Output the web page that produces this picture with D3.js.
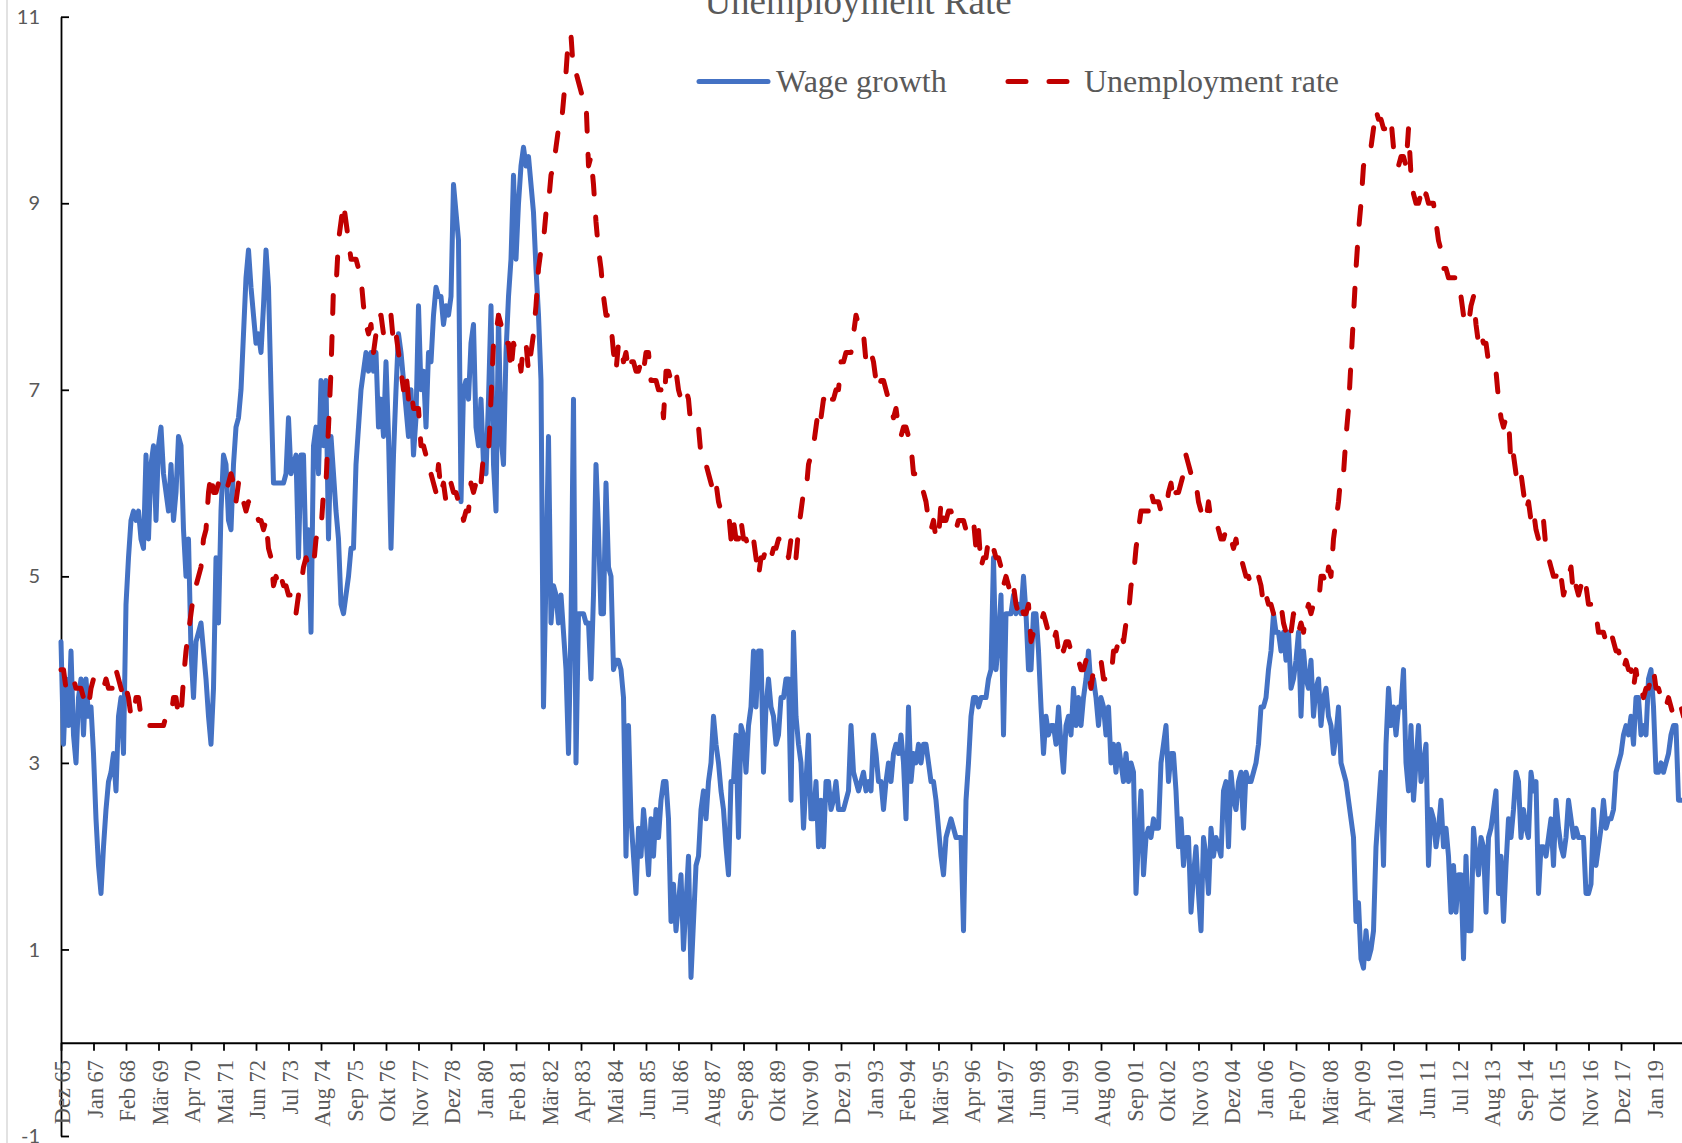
<!DOCTYPE html>
<html>
<head>
<meta charset="utf-8">
<title>Wage growth and unemployment rate</title>
<script src="https://cdn.jsdelivr.net/npm/d3@7"></script>
<style>
  body { margin: 0; background: #ffffff; }
  svg { display: block; }
</style>
</head>
<body>
<div id="chart"></div>
<script>
const monthNames = ["Jan", "Feb", "Mär", "Apr", "Mai", "Jun", "Jul", "Aug", "Sep", "Okt", "Nov", "Dez"];

const tickLabels = [
    "Dez 65", "Jan 67", "Feb 68", "Mär 69", "Apr 70", "Mai 71", "Jun 72", "Jul 73", "Aug 74", "Sep 75",
    "Okt 76", "Nov 77", "Dez 78", "Jan 80", "Feb 81", "Mär 82", "Apr 83", "Mai 84", "Jun 85", "Jul 86",
    "Aug 87", "Sep 88", "Okt 89", "Nov 90", "Dez 91", "Jan 93", "Feb 94", "Mär 95", "Apr 96", "Mai 97",
    "Jun 98", "Jul 99", "Aug 00", "Sep 01", "Okt 02", "Nov 03", "Dez 04", "Jan 06", "Feb 07", "Mär 08",
    "Apr 09", "Mai 10", "Jun 11", "Jul 12", "Aug 13", "Sep 14", "Okt 15", "Nov 16", "Dez 17", "Jan 19"
];

const yTicks = [-1, 1, 3, 5, 7, 9, 11];

const seriesNames = ["Wage growth", "Unemployment rate"];

// monthly, first value is Dez 65, then one row per year
const wageGrowth = [
    4.3,
    3.2, 3.9, 3.4, 4.2, 3.3, 3.0, 3.7, 3.9, 3.3, 3.9, 3.5, 3.6, // 1966
    3.1, 2.4, 1.9, 1.6, 2.1, 2.5, 2.8, 2.9, 3.1, 2.7, 3.5, 3.7, // 1967
    3.1, 4.7, 5.2, 5.6, 5.7, 5.6, 5.7, 5.4, 5.3, 6.3, 5.4, 6.2, // 1968
    6.4, 5.6, 6.4, 6.6, 6.1, 5.9, 5.7, 6.2, 5.6, 5.9, 6.5, 6.4, // 1969
    5.5, 5.0, 5.4, 4.2, 3.7, 4.3, 4.4, 4.5, 4.2, 3.9, 3.5, 3.2, // 1970
    3.8, 5.2, 4.5, 5.7, 6.3, 6.2, 5.6, 5.5, 6.2, 6.6, 6.7, 7.0, // 1971
    7.6, 8.2, 8.5, 8.1, 7.8, 7.5, 7.6, 7.4, 7.9, 8.5, 8.1, 7.0, // 1972
    6.0, 6.0, 6.0, 6.0, 6.0, 6.1, 6.7, 6.1, 6.2, 6.3, 5.2, 6.3, // 1973
    6.3, 5.2, 5.5, 4.4, 6.4, 6.6, 6.1, 7.1, 6.4, 7.1, 5.4, 6.5, // 1974
    6.1, 5.7, 5.4, 4.7, 4.6, 4.8, 5.0, 5.3, 5.3, 6.2, 6.6, 7.0, // 1975
    7.2, 7.4, 7.2, 7.4, 7.2, 7.4, 6.6, 6.9, 6.5, 7.3, 6.5, 5.3, // 1976
    6.3, 7.0, 7.6, 7.4, 7.1, 6.8, 6.5, 7.0, 6.3, 6.7, 7.9, 7.0, // 1977
    7.2, 6.6, 7.4, 7.3, 7.8, 8.1, 8.0, 8.0, 7.7, 7.9, 7.8, 8.0, // 1978
    9.2, 8.9, 8.6, 5.8, 7.0, 7.1, 6.9, 7.5, 7.7, 6.6, 6.4, 6.9, // 1979
    6.2, 6.1, 6.9, 7.9, 6.2, 5.7, 7.8, 6.5, 6.2, 7.4, 8.0, 8.4, // 1980
    9.3, 8.4, 9.0, 9.4, 9.6, 9.4, 9.5, 9.2, 8.9, 8.3, 7.8, 7.1, // 1981
    3.6, 5.0, 6.5, 4.5, 4.9, 4.8, 4.5, 4.8, 4.4, 4.0, 3.1, 4.5, // 1982
    6.9, 3.0, 4.6, 4.6, 4.6, 4.5, 4.5, 3.9, 4.8, 6.2, 5.5, 4.6, // 1983
    4.6, 6.0, 5.1, 5.0, 4.0, 4.1, 4.1, 4.0, 3.7, 2.0, 3.4, 2.4, // 1984
    2.0, 1.6, 2.3, 2.0, 2.5, 2.2, 1.8, 2.4, 2.0, 2.5, 2.2, 2.6, // 1985
    2.8, 2.8, 2.4, 1.3, 1.7, 1.2, 1.5, 1.8, 1.0, 1.5, 2.0, 0.7, // 1986
    1.3, 1.9, 2.0, 2.5, 2.7, 2.4, 2.8, 3.0, 3.5, 3.2, 3.0, 2.7, // 1987
    2.5, 2.1, 1.8, 2.8, 2.8, 3.3, 2.2, 3.4, 3.3, 2.9, 3.4, 3.6, // 1988
    4.2, 3.6, 4.2, 4.2, 2.9, 3.6, 3.9, 3.6, 3.5, 3.2, 3.3, 3.7, // 1989
    3.7, 3.9, 3.9, 2.6, 4.4, 3.5, 3.2, 3.0, 2.3, 2.8, 3.3, 2.4, // 1990
    2.4, 2.8, 2.1, 2.6, 2.1, 2.8, 2.8, 2.5, 2.6, 2.8, 2.5, 2.5, // 1991
    2.5, 2.6, 2.7, 3.4, 2.9, 2.8, 2.7, 2.8, 2.9, 2.7, 2.8, 2.7, // 1992
    3.3, 3.1, 2.8, 2.8, 2.5, 2.8, 3.0, 2.8, 3.1, 3.2, 3.1, 3.3, // 1993
    3.0, 2.4, 3.6, 2.8, 3.1, 3.0, 3.2, 3.0, 3.2, 3.2, 3.0, 2.8, // 1994
    2.8, 2.6, 2.3, 2.0, 1.8, 2.2, 2.3, 2.4, 2.3, 2.2, 2.2, 2.2, // 1995
    1.2, 2.6, 3.0, 3.5, 3.7, 3.7, 3.6, 3.7, 3.7, 3.7, 3.9, 4.0, // 1996
    5.2, 4.0, 4.3, 4.8, 3.3, 4.6, 4.6, 4.6, 4.8, 4.6, 4.7, 4.6, // 1997
    5.0, 4.6, 4.0, 4.0, 4.6, 4.6, 4.2, 3.6, 3.1, 3.5, 3.3, 3.4, // 1998
    3.4, 3.2, 3.6, 3.2, 2.9, 3.4, 3.5, 3.3, 3.8, 3.4, 3.7, 3.4, // 1999
    3.7, 3.9, 4.2, 3.8, 3.9, 3.7, 3.4, 3.7, 3.6, 3.3, 3.6, 3.0, // 2000
    3.2, 2.9, 3.2, 3.0, 2.8, 3.1, 2.8, 3.0, 2.9, 1.6, 2.2, 2.7, // 2001
    1.8, 2.2, 2.3, 2.2, 2.4, 2.3, 2.3, 3.0, 3.2, 3.4, 2.8, 3.1, // 2002
    3.1, 2.7, 2.1, 2.4, 1.9, 2.2, 2.2, 1.4, 1.8, 2.1, 1.6, 1.2, // 2003
    2.2, 2.0, 1.6, 2.3, 2.0, 2.2, 2.1, 2.0, 2.7, 2.8, 2.1, 2.9, // 2004
    2.6, 2.5, 2.8, 2.9, 2.3, 2.9, 2.8, 2.8, 2.9, 3.0, 3.2, 3.6, // 2005
    3.6, 3.7, 4.0, 4.2, 4.6, 4.4, 4.4, 4.2, 4.4, 4.1, 4.4, 3.8, // 2006
    3.9, 4.1, 4.4, 3.5, 4.2, 3.9, 3.8, 4.1, 3.5, 3.8, 3.9, 3.4, // 2007
    3.7, 3.8, 3.5, 3.4, 3.1, 3.3, 3.6, 3.0, 2.9, 2.8, 2.6, 2.4, // 2008
    2.2, 1.3, 1.5, 0.9, 0.8, 1.2, 0.9, 1.0, 1.2, 2.1, 2.5, 2.9, // 2009
    1.9, 3.2, 3.8, 3.4, 3.6, 3.3, 3.6, 3.6, 4.0, 3.0, 2.7, 3.4, // 2010
    2.6, 3.0, 3.4, 2.8, 3.0, 3.2, 1.9, 2.5, 2.4, 2.1, 2.3, 2.6, // 2011
    2.1, 2.3, 2.0, 1.4, 1.9, 1.4, 1.8, 1.8, 0.9, 2.0, 1.2, 1.2, // 2012
    2.3, 2.0, 1.8, 2.2, 2.1, 1.4, 2.2, 2.3, 2.5, 2.7, 1.6, 2.0, // 2013
    1.3, 1.9, 2.4, 2.2, 2.5, 2.9, 2.8, 2.2, 2.5, 2.3, 2.2, 2.9, // 2014
    2.7, 2.8, 1.6, 2.1, 2.1, 2.0, 2.2, 2.4, 1.9, 2.6, 2.3, 2.1, // 2015
    2.0, 2.2, 2.6, 2.4, 2.2, 2.3, 2.2, 2.2, 2.2, 1.6, 1.6, 1.7, // 2016
    2.5, 1.9, 2.1, 2.3, 2.6, 2.3, 2.4, 2.4, 2.5, 2.9, 3.0, 3.1, // 2017
    3.3, 3.4, 3.3, 3.5, 3.2, 3.7, 3.7, 3.3, 3.4, 3.3, 3.9, 4.0, // 2018
    3.6, 2.9, 2.9, 3.0, 2.9, 3.0, 3.1, 3.3, 3.4, 3.4, 2.6, 2.6, // 2019
    2.6                                                          // 2020
];

const unemploymentRate = [
    4.0,
    4.0, 3.8, 3.8, 3.8, 3.9, 3.8, 3.8, 3.8, 3.7, 3.7, 3.6, 3.8, // 1966
    3.9, 3.8, 3.8, 3.8, 3.8, 3.9, 3.8, 3.8, 3.8, 4.0, 3.9, 3.8, // 1967
    3.7, 3.8, 3.7, 3.5, 3.5, 3.7, 3.7, 3.5, 3.4, 3.4, 3.4, 3.4, // 1968
    3.4, 3.4, 3.4, 3.4, 3.4, 3.5, 3.5, 3.5, 3.7, 3.7, 3.5, 3.5, // 1969
    3.9, 4.2, 4.4, 4.6, 4.8, 4.9, 5.0, 5.1, 5.4, 5.5, 5.9, 6.1, // 1970
    5.9, 5.9, 6.0, 5.9, 5.9, 5.9, 6.0, 6.1, 6.0, 5.8, 6.0, 6.0, // 1971
    5.8, 5.7, 5.8, 5.7, 5.7, 5.7, 5.6, 5.6, 5.5, 5.6, 5.3, 5.2, // 1972
    4.9, 5.0, 4.9, 5.0, 4.9, 4.9, 4.8, 4.8, 4.8, 4.6, 4.8, 4.9, // 1973
    5.1, 5.2, 5.1, 5.1, 5.1, 5.4, 5.5, 5.5, 5.9, 6.0, 6.6, 7.2, // 1974
    8.1, 8.1, 8.6, 8.8, 9.0, 8.8, 8.6, 8.4, 8.4, 8.4, 8.3, 8.2, // 1975
    7.9, 7.7, 7.6, 7.7, 7.4, 7.6, 7.8, 7.8, 7.6, 7.7, 7.8, 7.8, // 1976
    7.5, 7.6, 7.4, 7.2, 7.0, 7.2, 6.9, 7.0, 6.8, 6.8, 6.8, 6.4, // 1977
    6.4, 6.3, 6.3, 6.1, 6.0, 5.9, 6.2, 5.9, 6.0, 5.8, 5.9, 6.0, // 1978
    5.9, 5.9, 5.8, 5.8, 5.6, 5.7, 5.7, 6.0, 5.9, 6.0, 5.9, 6.0, // 1979
    6.3, 6.3, 6.3, 6.9, 7.5, 7.6, 7.8, 7.7, 7.5, 7.5, 7.5, 7.2, // 1980
    7.5, 7.4, 7.4, 7.2, 7.5, 7.5, 7.2, 7.4, 7.6, 7.9, 8.3, 8.5, // 1981
    8.6, 8.9, 9.0, 9.3, 9.4, 9.6, 9.8, 9.8, 10.1, 10.4, 10.8, 10.8, // 1982
    10.4, 10.4, 10.3, 10.2, 10.1, 10.1, 9.4, 9.5, 9.2, 8.8, 8.5, 8.3, // 1983
    8.0, 7.8, 7.8, 7.7, 7.4, 7.2, 7.5, 7.5, 7.3, 7.4, 7.2, 7.3, // 1984
    7.3, 7.2, 7.2, 7.3, 7.2, 7.4, 7.4, 7.1, 7.1, 7.1, 7.0, 7.0, // 1985
    6.7, 7.2, 7.2, 7.1, 7.2, 7.2, 7.0, 6.9, 7.0, 7.0, 6.9, 6.6, // 1986
    6.6, 6.6, 6.6, 6.3, 6.3, 6.2, 6.1, 6.0, 5.9, 6.0, 5.8, 5.7, // 1987
    5.7, 5.7, 5.7, 5.4, 5.6, 5.4, 5.4, 5.6, 5.4, 5.4, 5.3, 5.3, // 1988
    5.4, 5.2, 5.0, 5.2, 5.2, 5.3, 5.2, 5.2, 5.3, 5.3, 5.4, 5.4, // 1989
    5.4, 5.3, 5.2, 5.4, 5.4, 5.2, 5.5, 5.7, 5.9, 5.9, 6.2, 6.3, // 1990
    6.4, 6.6, 6.8, 6.7, 6.9, 6.9, 6.8, 6.9, 6.9, 7.0, 7.0, 7.3, // 1991
    7.3, 7.4, 7.4, 7.4, 7.6, 7.8, 7.7, 7.6, 7.6, 7.3, 7.4, 7.4, // 1992
    7.3, 7.1, 7.0, 7.1, 7.1, 7.0, 6.9, 6.8, 6.7, 6.8, 6.6, 6.5, // 1993
    6.6, 6.6, 6.5, 6.4, 6.1, 6.1, 6.1, 6.0, 5.9, 5.8, 5.6, 5.5, // 1994
    5.6, 5.4, 5.4, 5.8, 5.6, 5.6, 5.7, 5.7, 5.6, 5.5, 5.6, 5.6, // 1995
    5.6, 5.5, 5.5, 5.6, 5.6, 5.3, 5.5, 5.1, 5.2, 5.2, 5.4, 5.4, // 1996
    5.3, 5.2, 5.2, 5.1, 4.9, 5.0, 4.9, 4.8, 4.9, 4.7, 4.6, 4.7, // 1997
    4.6, 4.6, 4.7, 4.3, 4.4, 4.5, 4.5, 4.5, 4.6, 4.5, 4.4, 4.4, // 1998
    4.3, 4.4, 4.2, 4.3, 4.2, 4.3, 4.3, 4.2, 4.2, 4.1, 4.1, 4.0, // 1999
    4.0, 4.1, 4.0, 3.8, 4.0, 4.0, 4.0, 4.1, 3.9, 3.9, 3.9, 3.9, // 2000
    4.2, 4.2, 4.3, 4.4, 4.3, 4.5, 4.6, 4.9, 5.0, 5.3, 5.5, 5.7, // 2001
    5.7, 5.7, 5.7, 5.9, 5.8, 5.8, 5.8, 5.7, 5.7, 5.7, 5.9, 6.0, // 2002
    5.8, 5.9, 5.9, 6.0, 6.1, 6.3, 6.2, 6.1, 6.1, 6.0, 5.8, 5.7, // 2003
    5.7, 5.6, 5.8, 5.6, 5.6, 5.6, 5.5, 5.4, 5.4, 5.5, 5.4, 5.4, // 2004
    5.3, 5.4, 5.2, 5.2, 5.1, 5.0, 5.0, 4.9, 5.0, 5.0, 5.0, 4.9, // 2005
    4.7, 4.8, 4.7, 4.7, 4.6, 4.6, 4.7, 4.7, 4.5, 4.4, 4.5, 4.4, // 2006
    4.6, 4.5, 4.4, 4.5, 4.4, 4.6, 4.7, 4.6, 4.7, 4.7, 4.7, 5.0, // 2007
    5.0, 4.9, 5.1, 5.0, 5.4, 5.6, 5.8, 6.1, 6.1, 6.5, 6.8, 7.3, // 2008
    7.8, 8.3, 8.7, 9.0, 9.4, 9.5, 9.5, 9.6, 9.8, 10.0, 9.9, 9.9, // 2009
    9.8, 9.8, 9.9, 9.9, 9.6, 9.4, 9.4, 9.5, 9.5, 9.4, 9.8, 9.3, // 2010
    9.1, 9.0, 9.0, 9.1, 9.0, 9.1, 9.0, 9.0, 9.0, 8.8, 8.6, 8.5, // 2011
    8.3, 8.3, 8.2, 8.2, 8.2, 8.2, 8.2, 8.0, 7.8, 7.8, 7.7, 7.9, // 2012
    8.0, 7.7, 7.5, 7.6, 7.5, 7.5, 7.3, 7.2, 7.2, 7.2, 6.9, 6.7, // 2013
    6.6, 6.7, 6.7, 6.2, 6.3, 6.1, 6.2, 6.1, 5.9, 5.7, 5.8, 5.6, // 2014
    5.7, 5.5, 5.4, 5.4, 5.6, 5.3, 5.2, 5.1, 5.0, 5.0, 5.1, 5.0, // 2015
    4.8, 4.9, 5.0, 5.1, 4.8, 4.9, 4.8, 4.9, 5.0, 4.9, 4.7, 4.7, // 2016
    4.7, 4.6, 4.4, 4.4, 4.4, 4.3, 4.3, 4.4, 4.3, 4.2, 4.2, 4.1, // 2017
    4.0, 4.1, 4.0, 4.0, 3.8, 4.0, 3.8, 3.8, 3.7, 3.8, 3.8, 3.9, // 2018
    4.0, 3.8, 3.8, 3.7, 3.6, 3.6, 3.7, 3.6, 3.5, 3.6, 3.6, 3.6, // 2019
    3.5                                                          // 2020
];

// month categories, starting at Dez 65
const months = wageGrowth.map((d, i) => {
    const m = (11 + i) % 12;
    const yr = (1965 + Math.floor((11 + i) / 12)) % 100;
    return monthNames[m] + " " + String(yr).padStart(2, "0");
});

const width = 1682;
const height = 1143;

const blue = "#4472C4";
const red = "#C00000";
const grey = "#595959";
const serif = "'Liberation Serif', 'Times New Roman', serif";
const sans = "Lato, 'Open Sans', sans-serif";

const svg = d3.select("#chart").append("svg")
    .attr("width", width)
    .attr("height", height)
    .attr("viewBox", `0 0 ${width} ${height}`);

svg.append("rect")
    .attr("width", width)
    .attr("height", height)
    .attr("fill", "#ffffff");

// light chart border on the left
svg.append("line")
    .attr("x1", 7).attr("x2", 7)
    .attr("y1", 0).attr("y2", height)
    .attr("stroke", "#d9d9d9")
    .attr("stroke-width", 1.5);

// 2.5px per month
const x = d3.scalePoint()
    .domain(months)
    .range([61, 61 + 2.5 * (months.length - 1)]);

const y = d3.scaleLinear()
    .domain([-1, 11])
    .range([1136, 16.7]);

// title, cut off at the top like in the original
svg.append("text")
    .attr("x", 858)
    .attr("y", 14)
    .attr("text-anchor", "middle")
    .attr("fill", grey)
    .style("font-family", serif)
    .style("font-size", "37px")
    .text("Unemployment Rate");

// y axis, ticks pointing into the plot
const yAxis = svg.append("g")
    .attr("transform", `translate(${x.range()[0]},0)`)
    .call(d3.axisLeft(y)
        .tickValues(yTicks)
        .tickSize(-8)
        .tickSizeOuter(0)
        .tickPadding(21)
        .tickFormat(d => String(d)));

yAxis.select(".domain")
    .attr("stroke", "#000")
    .attr("stroke-width", 1.8);

yAxis.selectAll(".tick line")
    .attr("stroke", "#000")
    .attr("stroke-width", 1.8);

yAxis.selectAll(".tick text")
    .attr("dy", "0.33em")
    .attr("fill", grey)
    .style("font-family", sans)
    .style("font-size", "20px");

// x axis sits on zero
const xAxis = svg.append("g")
    .attr("transform", `translate(0,${y(0)})`)
    .call(d3.axisBottom(x)
        .tickValues(tickLabels)
        .tickSize(8)
        .tickSizeOuter(0));

xAxis.select(".domain")
    .attr("stroke", "#000")
    .attr("stroke-width", 2);

xAxis.selectAll(".tick line")
    .attr("stroke", "#000")
    .attr("stroke-width", 1.8);

xAxis.selectAll(".tick text")
    .attr("transform", "rotate(-90)")
    .attr("x", -(1060 - y(0)))
    .attr("y", 0)
    .attr("dy", "0.38em")
    .attr("text-anchor", "end")
    .attr("fill", grey)
    .style("font-family", serif)
    .style("font-size", "22.5px");

const line = d3.line()
    .x((d, i) => x(months[i]))
    .y(d => y(d));

svg.append("path")
    .datum(wageGrowth)
    .attr("d", line)
    .attr("fill", "none")
    .attr("stroke", blue)
    .attr("stroke-width", 5)
    .attr("stroke-linejoin", "round")
    .attr("stroke-linecap", "round");

svg.append("path")
    .datum(unemploymentRate)
    .attr("d", line)
    .attr("fill", "none")
    .attr("stroke", red)
    .attr("stroke-width", 5)
    .attr("stroke-linejoin", "round")
    .attr("stroke-linecap", "round")
    .attr("stroke-dasharray", "18 23");

// legend
const legend = svg.append("g");

const legendItems = [
    { name: seriesNames[0], color: blue, dash: null, x1: 699, x2: 768, tx: 776 },
    { name: seriesNames[1], color: red, dash: "18 23", x1: 1008, x2: 1071, tx: 1084 }
];

legendItems.forEach(item => {
    legend.append("line")
        .attr("x1", item.x1)
        .attr("x2", item.x2)
        .attr("y1", 81.5)
        .attr("y2", 81.5)
        .attr("stroke", item.color)
        .attr("stroke-width", 5)
        .attr("stroke-linecap", "round")
        .attr("stroke-dasharray", item.dash);

    legend.append("text")
        .attr("x", item.tx)
        .attr("y", 91.5)
        .attr("fill", grey)
        .style("font-family", serif)
        .style("font-size", "32px")
        .text(item.name);
});
</script>
</body>
</html>
